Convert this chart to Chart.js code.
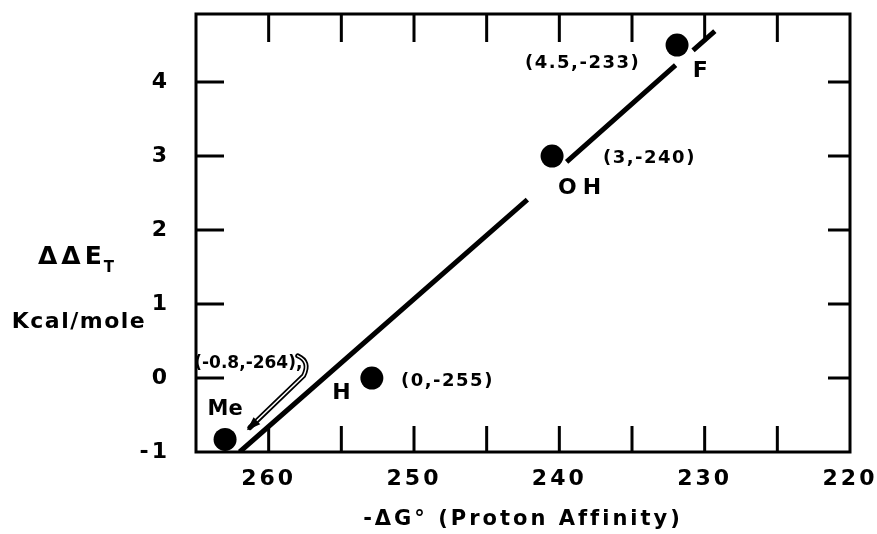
<!DOCTYPE html>
<html>
<head>
<meta charset="utf-8">
<script src="https://cdn.jsdelivr.net/npm/chart.js@4.4.1/dist/chart.umd.min.js"></script>
<style>
  html, body { margin: 0; background: #fff; }
</style>
</head>
<body>
<canvas id="graphe" width="877" height="534"></canvas>
<script>
// valeurs
var substituants = ['Me', 'H', 'OH', 'F'];
var affinite = [263.0, 252.9, 240.5, 231.9];   // -dG (axe x)
var deltaE = [-0.83, 0.0, 3.0, 4.5];           // ddE_T (axe y)
var etiquettes = ['(-0.8,-264),', '(0,-255)', '(3,-240)', '(4.5,-233)'];

// droite de correlation, coupee autour des points
var droiteX = [262.0, 242.2, 241.0, 239.5, 232.0, 231.0, 230.8, 229.3];
var droiteY = [-1.0, 2.41, null, 2.92, 4.23, null, 4.43, 4.69];

var ticksX = [260, 250, 240, 230, 220];
var ticksY = [-1, 0, 1, 2, 3, 4];

var police = '"DejaVu Sans", sans-serif';

// position des textes (en unites des axes)
var posTextes = [
  { t: etiquettes[0], x: 261.4, y: 0.20, size: 17, esp: 0 },
  { t: etiquettes[1], x: 247.7, y: -0.05, size: 18, esp: 1.5 },
  { t: etiquettes[2], x: 233.8, y: 2.97, size: 18, esp: 1.5 },
  { t: etiquettes[3], x: 238.4, y: 4.26, size: 18, esp: 1.5 },
  { t: substituants[0], x: 263.0, y: -0.43, size: 21, esp: 0 },
  { t: substituants[1], x: 255.0, y: -0.20, size: 22, esp: 0 },
  { t: substituants[2], x: 238.4, y: 2.57, size: 22, esp: 6 },
  { t: substituants[3], x: 230.3, y: 4.14, size: 22, esp: 0 }
];

var cadre = {
  id: 'cadre',
  beforeDraw: function (chart) {
    chart.ctx.letterSpacing = '3px';
  },
  afterDraw: function (chart) {
    var ctx = chart.ctx, a = chart.chartArea;
    var sx = chart.scales.x, sy = chart.scales.y;
    ctx.save();
    ctx.strokeStyle = '#000';
    ctx.lineWidth = 3;
    ctx.strokeRect(a.left, a.top, a.right - a.left, a.bottom - a.top);

    // graduations vers l'interieur
    ctx.beginPath();
    sx.ticks.forEach(function (t) {
      if (t.value <= sx.min || t.value >= sx.max) return;
      var p = sx.getPixelForValue(t.value);
      ctx.moveTo(p, a.bottom); ctx.lineTo(p, a.bottom - 26);
      ctx.moveTo(p, a.top); ctx.lineTo(p, a.top + 28);
    });
    sy.ticks.forEach(function (t) {
      if (t.value <= sy.min || t.value >= sy.max) return;
      var p = sy.getPixelForValue(t.value);
      ctx.moveTo(a.left, p); ctx.lineTo(a.left + 28, p);
      ctx.moveTo(a.right, p); ctx.lineTo(a.right - 22, p);
    });
    ctx.stroke();

    // textes
    ctx.fillStyle = '#000';
    ctx.textAlign = 'center';
    ctx.textBaseline = 'middle';
    posTextes.forEach(function (o) {
      ctx.font = 'bold ' + o.size + 'px ' + police;
      ctx.letterSpacing = o.esp + 'px';
      ctx.fillText(o.t, sx.getPixelForValue(o.x), sy.getPixelForValue(o.y));
    });

    // fleche double vers Me
    var P = function (x, y) { return [sx.getPixelForValue(x), sy.getPixelForValue(y)]; };
    var p0 = P(258.0, 0.30), c = P(257.1, 0.22), p1 = P(257.6, 0.03), tip = P(261.3, -0.67);
    var trace = function () {
      ctx.beginPath();
      ctx.moveTo(p0[0], p0[1]);
      ctx.quadraticCurveTo(c[0], c[1], p1[0], p1[1]);
      ctx.lineTo(tip[0], tip[1]);
      ctx.stroke();
    };
    ctx.lineCap = 'round';
    ctx.strokeStyle = '#000'; ctx.lineWidth = 5; trace();
    ctx.strokeStyle = '#fff'; ctx.lineWidth = 1.5; trace();
    var ang = Math.atan2(tip[1] - p1[1], tip[0] - p1[0]);
    ctx.fillStyle = '#000';
    ctx.beginPath();
    ctx.moveTo(tip[0] + 4 * Math.cos(ang), tip[1] + 4 * Math.sin(ang));
    ctx.lineTo(tip[0] - 11 * Math.cos(ang - 0.45), tip[1] - 11 * Math.sin(ang - 0.45));
    ctx.lineTo(tip[0] - 11 * Math.cos(ang + 0.45), tip[1] - 11 * Math.sin(ang + 0.45));
    ctx.closePath();
    ctx.fill();

    // titre de l'axe y
    ctx.letterSpacing = '4px';
    ctx.textAlign = 'left';
    ctx.font = 'bold 25px ' + police;
    ctx.fillText('\u0394\u0394E', 38, 257);
    var w = ctx.measureText('\u0394\u0394E').width;
    ctx.font = 'bold 15px ' + police;
    ctx.fillText('T', 38 + w - 2, 268);
    ctx.letterSpacing = '1.5px';
    ctx.textAlign = 'center';
    ctx.font = 'bold 22px ' + police;
    ctx.fillText('Kcal/mole', 79, 322);
    ctx.restore();
  }
};

var ctx3 = document.getElementById('graphe').getContext('2d');
new Chart(ctx3, {
  type: 'scatter',
  data: {
    datasets: [{
      data: affinite.map(function (x, i) { return { x: x, y: deltaE[i] }; }),
      pointRadius: 11.5,
      pointHoverRadius: 11.5,
      pointBackgroundColor: '#000',
      pointBorderWidth: 0,
      showLine: false
    }, {
      data: droiteX.map(function (x, i) { return { x: x, y: droiteY[i] }; }),
      showLine: true,
      spanGaps: false,
      borderColor: '#000',
      borderWidth: 5,
      borderCapStyle: 'butt',
      pointRadius: 0
    }]
  },
  options: {
    responsive: false,
    animation: false,
    events: [],
    layout: { padding: { left: 0, right: 27, top: 14, bottom: 0 } },
    plugins: { legend: { display: false }, tooltip: { enabled: false } },
    scales: {
      x: {
        type: 'linear',
        reverse: true,
        min: 220,
        max: 265,
        afterFit: function (s) { s.height = 82; s.paddingLeft = 0; s.paddingRight = 0; },
        grid: { drawOnChartArea: false, drawTicks: false },
        border: { display: false },
        ticks: {
          stepSize: 5,
          autoSkip: false,
          maxRotation: 0,
          padding: 14,
          color: '#000',
          font: { family: police, size: 22, weight: 'bold' },
          callback: function (v) { return ticksX.indexOf(v) >= 0 ? String(v) : ''; }
        },
        title: {
          display: true,
          text: '-\u0394G\u00b0 (Proton Affinity)',
          color: '#000',
          font: { family: police, size: 21, weight: 'bold' },
          padding: { top: 4, bottom: 2 }
        }
      },
      y: {
        min: -1,
        max: 4.92,
        afterFit: function (s) { s.width = 196; s.paddingTop = 0; s.paddingBottom = 0; },
        grid: { drawOnChartArea: false, drawTicks: false },
        border: { display: false },
        ticks: {
          stepSize: 1,
          autoSkip: false,
          padding: 26,
          color: '#000',
          font: { family: police, size: 22, weight: 'bold' },
          callback: function (v) { return ticksY.indexOf(v) >= 0 ? String(v) : ''; }
        }
      }
    }
  },
  plugins: [cadre]
});
</script>
</body>
</html>
